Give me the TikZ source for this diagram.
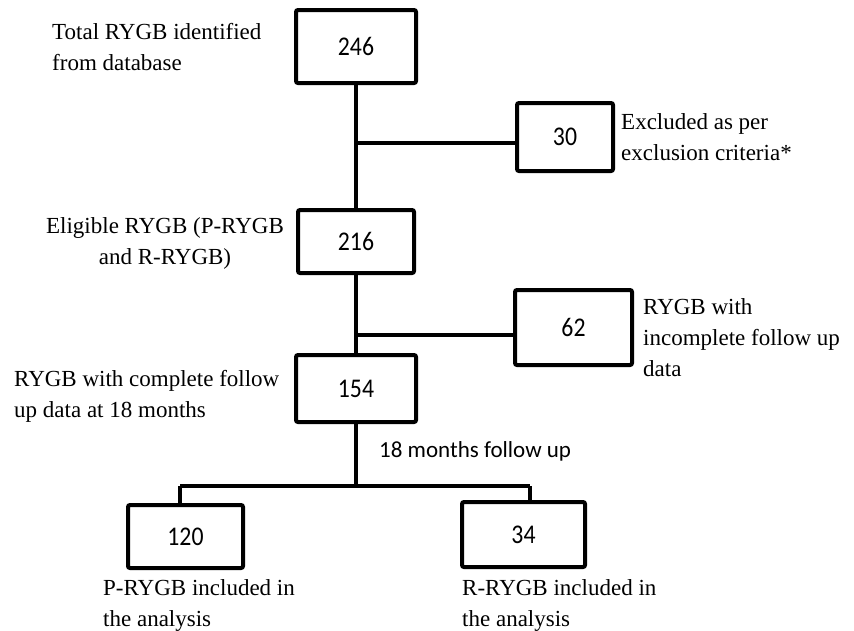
\documentclass[tikz,border=0pt]{standalone}
\usepackage{fontspec}
\setmainfont{Liberation Serif}
\newfontfamily\numfont[FakeStretch=0.88]{Carlito}
\newfontfamily\sansfont{Carlito}
\begin{document}
\begin{tikzpicture}[x=1pt,y=-1pt,
  numbox/.style={draw,line width=4pt,rounded corners=2pt,font=\numfont\fontsize{27}{30}\selectfont,inner sep=0pt},
  lbl/.style={font=\fontsize{23}{31}\selectfont,inner sep=0pt},
  conn/.style={line width=4pt}]
\useasboundingbox (0,0) rectangle (854,630);
\node[numbox,minimum width=120,minimum height=73] (b246) at (356,46.5) {246};
\node[numbox,minimum width=96,minimum height=68] (b30) at (565,137) {30};
\node[numbox,minimum width=116,minimum height=63] (b216) at (356,241.5) {216};
\node[numbox,minimum width=117,minimum height=75] (b62) at (573.5,327.5) {62};
\node[numbox,minimum width=120,minimum height=67] (b154) at (356,388.5) {154};
\node[numbox,minimum width=115,minimum height=63] (b120) at (185.5,536.5) {120};
\node[numbox,minimum width=123,minimum height=65] (b34) at (523.5,534.5) {34};
\coordinate (j1) at (356,143);
\coordinate (j2) at (356,335);
\coordinate (j3) at (356,486);
\coordinate (jl) at (180,486);
\coordinate (jr) at (530,486);
\draw[conn] (b246.south) -- (b216.north);
\draw[conn] (j1) -- (j1 -| b30.west);
\draw[conn] (b216.south) -- (b154.north);
\draw[conn] (j2) -- (j2 -| b62.west);
\draw[conn] (b154.south) -- (j3);
\draw[conn] (jl) -- (jr);
\draw[conn] (jl) -- (jl |- b120.north);
\draw[conn] (jr) -- (jr |- b34.north);
\node[lbl,align=left,anchor=west] (t1) at (52,47.5) {Total RYGB identified\\from database};
\node[lbl,align=left,anchor=west] (t2) at (621,137) {Excluded as per\\exclusion criteria*};
\node[lbl,align=center] (t3) at (165,243) {Eligible RYGB (P-RYGB\\and R-RYGB)};
\node[lbl,align=left,anchor=west] (t4) at (643,338) {RYGB with\\incomplete follow up\\data};
\node[lbl,align=left,anchor=west] (t5) at (14,396) {RYGB with complete follow\\up data at 18 months};
\node[lbl,font=\sansfont\fontsize{23}{28}\selectfont,anchor=west] (t6) at (379,451) {18 months follow up};
\node[lbl,align=left,anchor=west] (t7) at (103,605) {P-RYGB included in\\the analysis};
\node[lbl,align=left,anchor=west] (t8) at (462,605) {R-RYGB included in\\the analysis};
\end{tikzpicture}
\end{document}
